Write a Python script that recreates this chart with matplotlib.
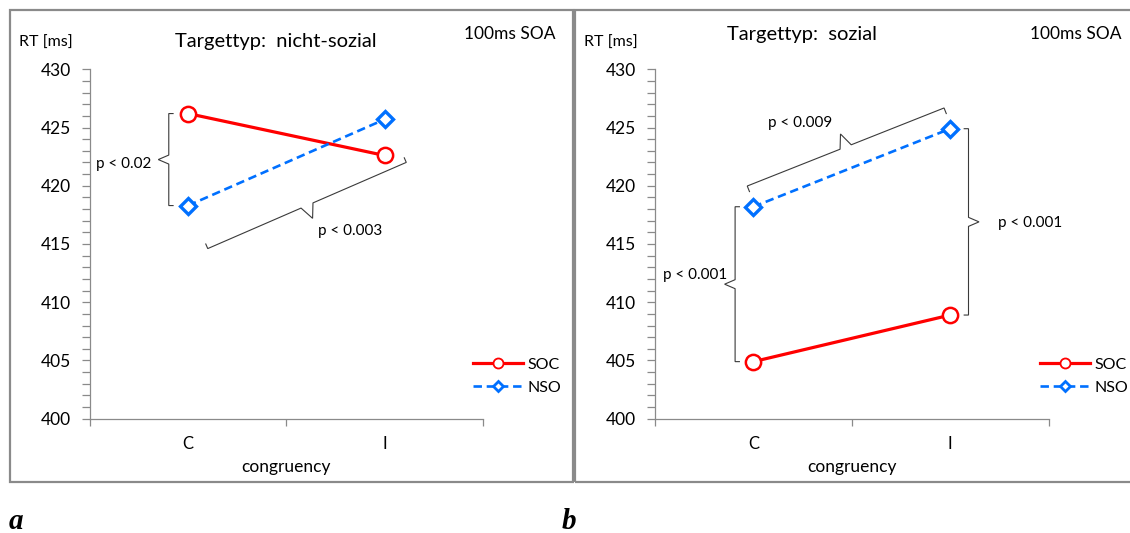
import numpy as np
import matplotlib
matplotlib.use('Agg')
import matplotlib.pyplot as plt
from matplotlib.lines import Line2D
from matplotlib.patches import Rectangle
from matplotlib.ticker import MultipleLocator

plt.rcParams['font.family'] = ['Lato', 'DejaVu Sans']

# data
categories = ['C', 'I']
soc_a = [426.2, 422.6]   # Targettyp nicht-sozial
nso_a = [418.3, 425.7]
soc_b = [404.9, 408.9]   # Targettyp sozial
nso_b = [418.2, 424.9]

W, H = 1130, 533
fig = plt.figure(figsize=(W / 100, H / 100), dpi=100)

RED = '#FF0000'
BLUE = '#0070FF'
GRAY = '#8a8a8a'
INK = '#3a3a3a'


def fx(x):
    return x / W


def fy(y):
    return 1 - y / H


def brace(ax, p0, p1, side, hook, depth, half, shift=(0, 0)):
    # curly bracket drawn in pixel space, p0/p1 are the free ends of the hooks
    t = ax.transData
    a = t.transform(p0) + np.array(shift, float)
    b = t.transform(p1) + np.array(shift, float)
    d = (b - a) / np.hypot(*(b - a))
    n = side * np.array([-d[1], d[0]])
    s0 = a + n * hook
    s1 = b + n * hook
    m = (s0 + s1) / 2
    pts = np.array([a, s0, m - d * half, m + n * depth, m + d * half, s1, b])
    xy = t.inverted().transform(pts)
    ax.plot(xy[:, 0], xy[:, 1], color=INK, lw=0.8, clip_on=False,
            solid_joinstyle='miter')


def setup(ax):
    ax.set_xlim(-0.5, 1.5)
    ax.set_ylim(400, 430)
    for s in ['top', 'right']:
        ax.spines[s].set_visible(False)
    for s in ['left', 'bottom']:
        ax.spines[s].set_color(GRAY)
        ax.spines[s].set_linewidth(0.9)
    ax.set_xticks([-0.5, 0.5, 1.5])
    ax.set_xticklabels([])
    ax.set_xticks(np.arange(len(categories)), minor=True)
    ax.set_xticklabels(categories, minor=True, fontsize=12)
    ax.tick_params(axis='x', which='major', length=5, color=GRAY, width=0.9)
    ax.tick_params(axis='x', which='minor', length=0, pad=12.5)
    ax.set_yticks(np.arange(400, 431, 5))
    ax.yaxis.set_minor_locator(MultipleLocator(1))
    ax.tick_params(axis='y', which='both', length=5.5, color=GRAY, width=0.9,
                   labelsize=12.5, pad=8)
    ax.patch.set_alpha(0)


def lines(ax, soc, nso):
    x = np.arange(len(categories))
    ax.plot(x, soc, color=RED, lw=2.3, marker='o', ms=11, mfc='white',
            mec=RED, mew=1.8, zorder=3, clip_on=False)
    ax.plot(x, nso, color=BLUE, lw=1.9, dashes=(3.2, 1.8), marker='D', ms=8,
            mfc='white', mec=BLUE, mew=2.4, zorder=3, clip_on=False)


def legend(ax, x0, y0):
    h = [Line2D([], [], color=RED, lw=2.3, marker='o', ms=7.2, mfc='white',
                mec=RED, mew=1.3),
         Line2D([], [], color=BLUE, lw=1.9, dashes=(3.2, 1.8), marker='D',
                ms=5.5, mfc='white', mec=BLUE, mew=2.0)]
    ax.legend(h, ['SOC', 'NSO'], loc='center left',
              bbox_to_anchor=(fx(x0), fy(y0)), bbox_transform=fig.transFigure,
              frameon=False, fontsize=11.5, handlelength=3.1, handletextpad=0.3,
              labelspacing=0.55, borderpad=0, borderaxespad=0)


# frames around the two panels
fig.patches.append(Rectangle((fx(10), fy(481.5)), fx(563), (471.5 / H),
                             transform=fig.transFigure, fill=False,
                             edgecolor=GRAY, lw=1.6))
fig.patches.append(Rectangle((fx(575), fy(481.5)), fx(570), (471.5 / H),
                             transform=fig.transFigure, fill=False,
                             edgecolor=GRAY, lw=1.6))

axh = 349.4 / H
axb = fy(418.7)
ax1 = fig.add_axes([fx(89.8), axb, fx(393.1), axh])
ax2 = fig.add_axes([fx(655), axb, fx(393.6), axh])
setup(ax1)
setup(ax2)
lines(ax1, soc_a, nso_a)
lines(ax2, soc_b, nso_b)
legend(ax1, 473, 376)
legend(ax2, 1040, 376)

# panel a annotations
brace(ax1, (0, soc_a[0]), (0, nso_a[0]), -1, 4.3, 10.5, 4.5, shift=(-15, 0))
brace(ax1, (0.09, 415.0), (1.10, 422.4), -1, 5, 14, 6.5)
fig.text(fx(151), fy(164), 'p < 0.02', ha='right', va='center', fontsize=11)
fig.text(fx(318), fy(231), 'p < 0.003', ha='left', va='center', fontsize=11)

# panel b annotations
brace(ax2, (0, nso_b[0]), (0, soc_b[0]), -1, 4.3, 10.5, 4.5, shift=(-14, 0))
brace(ax2, (1, nso_b[1]), (1, soc_b[1]), 1, 4.3, 10.5, 4.5, shift=(14, 0))
brace(ax2, (-0.02, 419.5), (0.98, 426.2), 1, 6, 14, 6)
fig.text(fx(768), fy(123), 'p < 0.009', ha='left', va='center', fontsize=11)
fig.text(fx(727), fy(275), 'p < 0.001', ha='right', va='center', fontsize=11)
fig.text(fx(998), fy(223), 'p < 0.001', ha='left', va='center', fontsize=11)

# titles and axis texts
fig.text(fx(276), fy(47.5), 'Targettyp:  nicht-sozial', ha='center',
         va='baseline', fontsize=14.5)
fig.text(fx(802), fy(40), 'Targettyp:  sozial', ha='center', va='baseline',
         fontsize=14.5)
for x0, x1 in [(19, 464), (584, 1030)]:
    fig.text(fx(x0), fy(46.5), 'RT [ms]', ha='left', va='baseline', fontsize=11.5)
    fig.text(fx(x1), fy(39), '100ms SOA', ha='left', va='baseline', fontsize=12.5)
fig.text(fx(286), fy(472), 'congruency', ha='center', va='baseline', fontsize=12.5)
fig.text(fx(852), fy(472), 'congruency', ha='center', va='baseline', fontsize=12.5)

fig.text(fx(9), fy(529), 'a', ha='left', va='baseline', fontsize=21,
         family='Liberation Serif', weight='bold', style='italic')
fig.text(fx(562), fy(529), 'b', ha='left', va='baseline', fontsize=21,
         family='Liberation Serif', weight='bold', style='italic')

fig.savefig('out.png', dpi=100)
